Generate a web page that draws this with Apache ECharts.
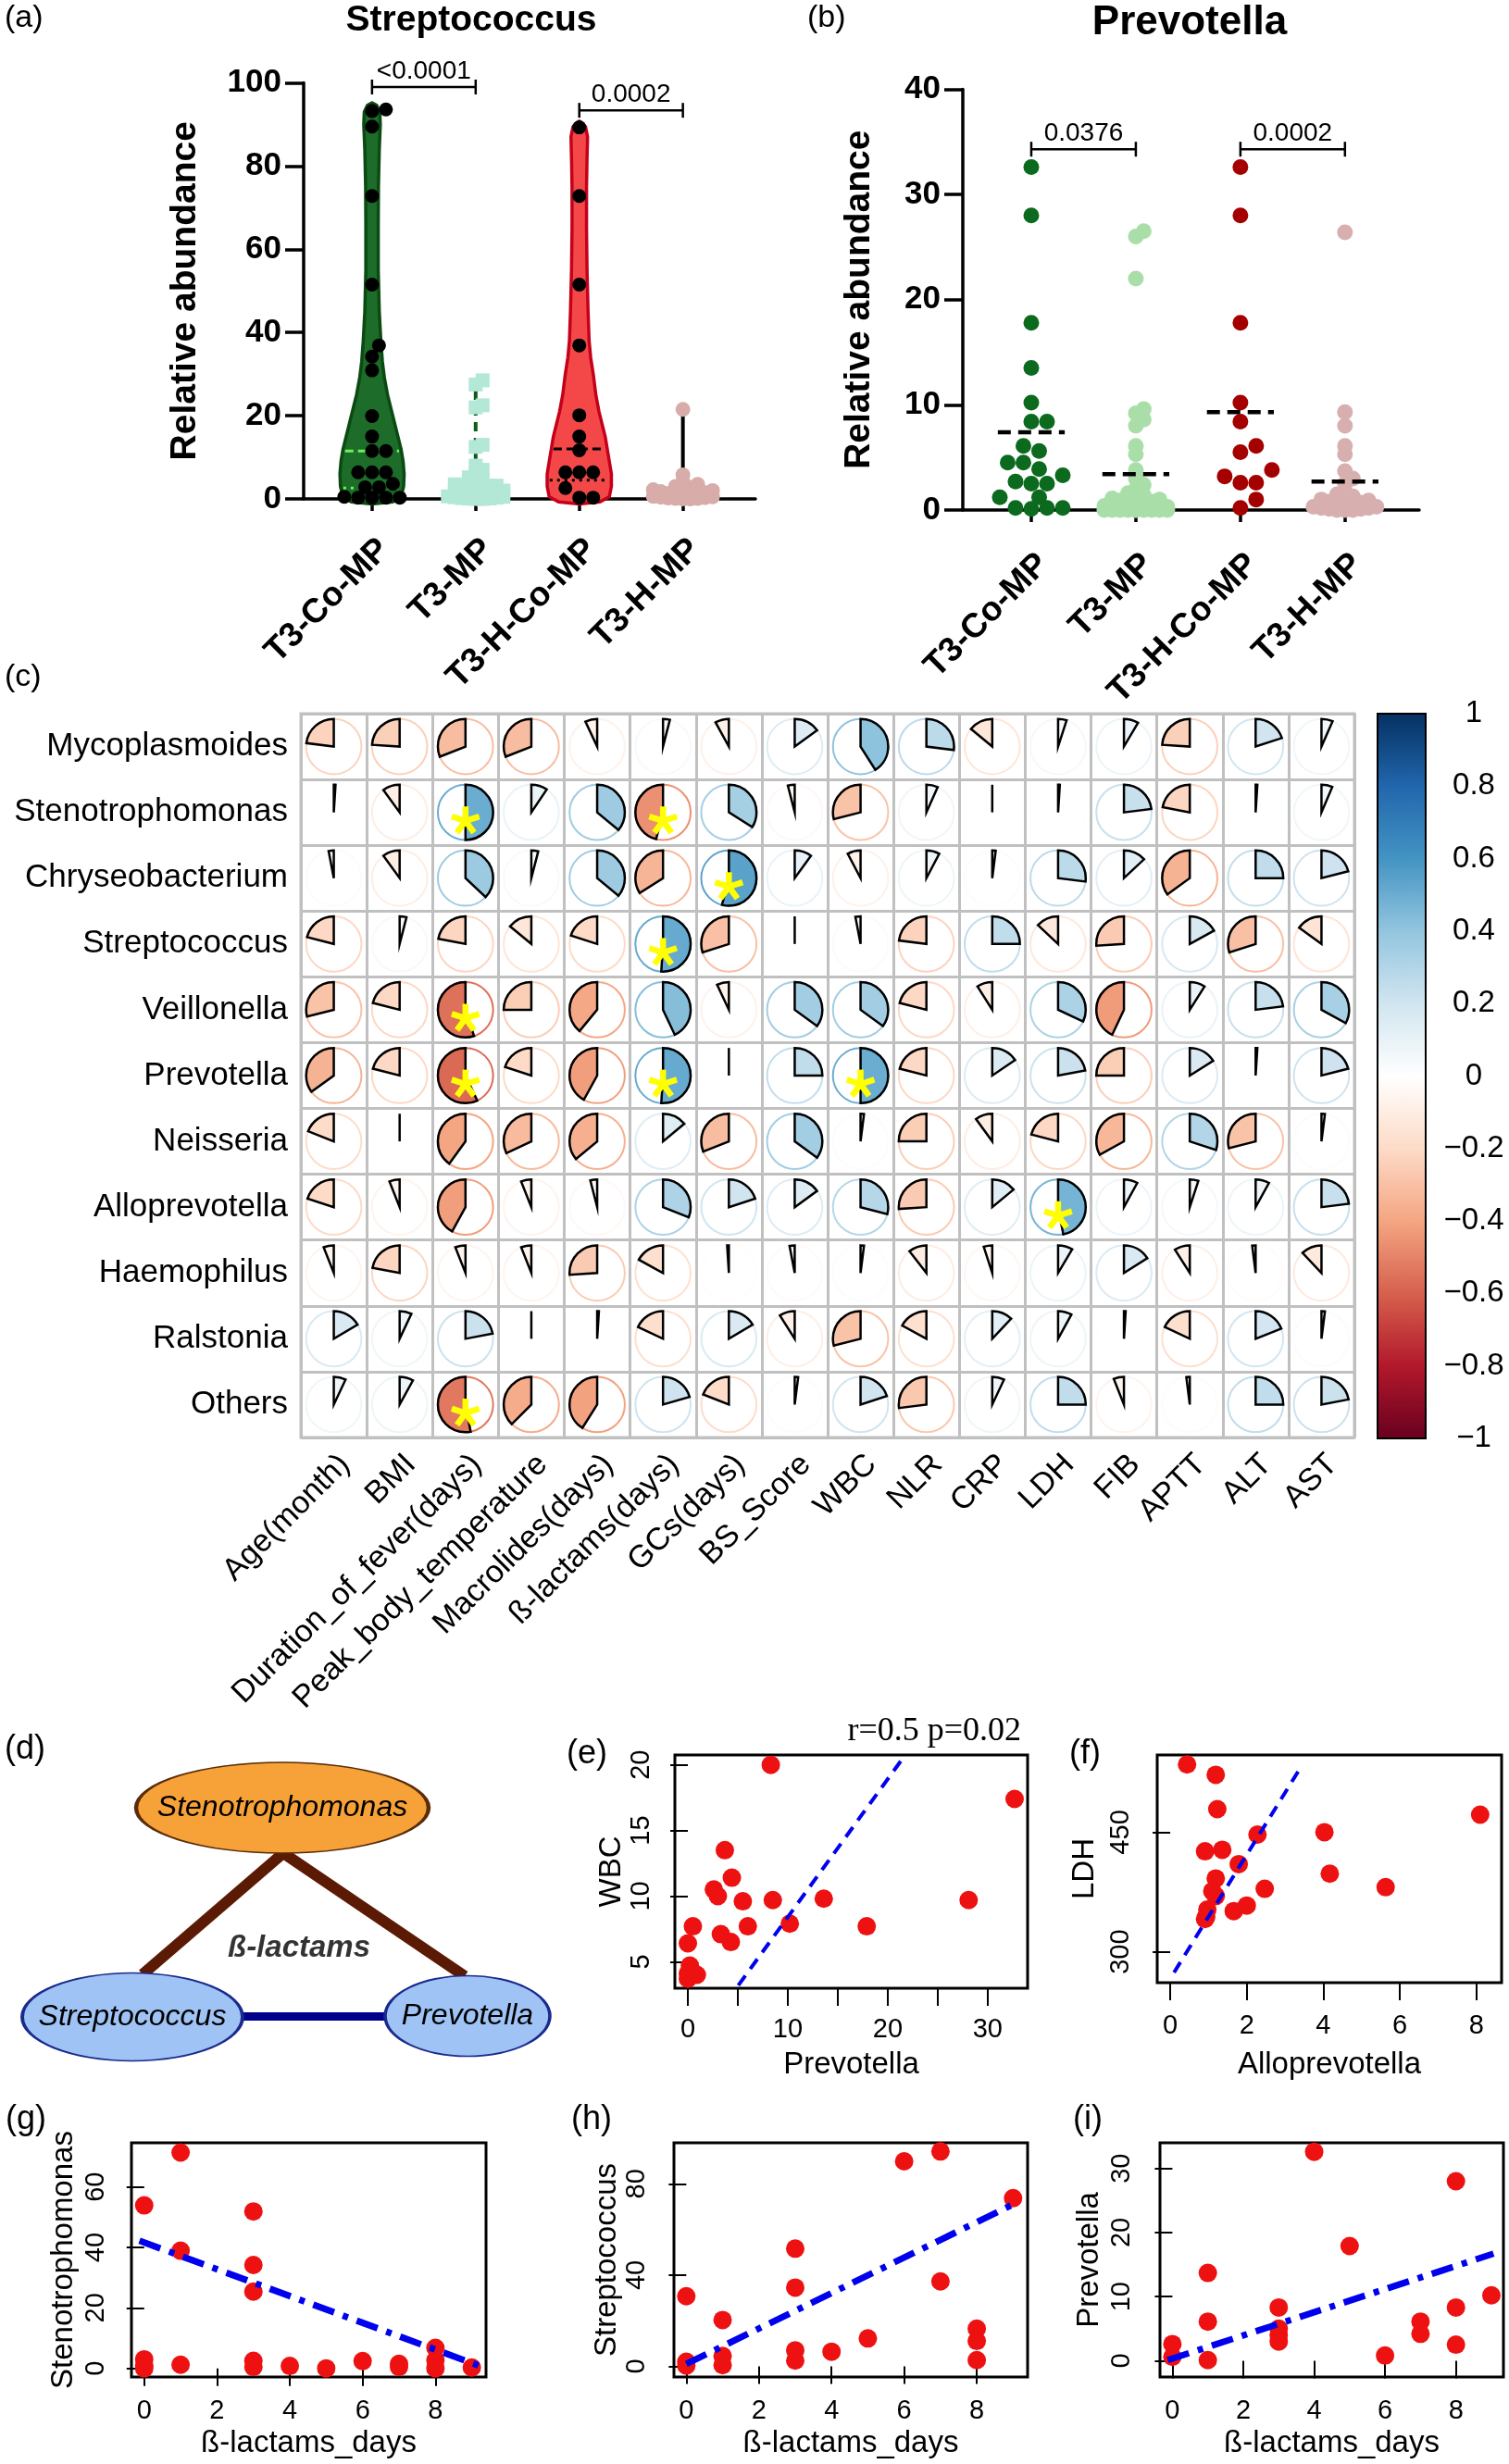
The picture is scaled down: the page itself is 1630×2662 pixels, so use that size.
<!DOCTYPE html>
<html><head><meta charset="utf-8">
<script src="https://cdn.jsdelivr.net/npm/echarts@6/dist/echarts.min.js"></script>
<style>html,body{margin:0;padding:0;background:#fff}#main{width:1630px;height:2662px}</style>
</head><body><div id="main"></div>
<script>
// ================= DATA =================
const groups = ['T3-Co-MP', 'T3-MP', 'T3-H-Co-MP', 'T3-H-MP'];

// (a) Streptococcus relative abundance
const strepCoMP  = [93.6, 93.2, 89.5, 72.8, 51.5, 36.9, 34.2, 30.9, 19.9, 15.0, 11.5, 11.5, 6.4, 6.4, 6.4, 3.6, 2.8, 2.8, 0.5, 0.3, 0.3, 0.3, 0.3];
const strepMP    = [28.5, 27.5, 22.5, 22.0, 13.0, 12.5, 8.0, 7.0, 6.0, 5.2, 4.5, 4.0, 3.5, 3.2, 3.0, 2.8, 2.6, 2.5, 2.2, 2.0, 1.8, 1.6, 1.5, 1.2, 1.0, 0.9, 0.8, 0.6, 0.5, 0.4, 0.3, 0.2, 0.1, 0.1, 0, 0];
const strepHCoMP = [89.3, 72.8, 51.5, 36.9, 20.1, 15.0, 11.7, 6.4, 6.4, 6.4, 2.6, 0.3, 0.3];
const strepHMP   = [21.5, 5.8, 4.2, 3.5, 3.0, 2.8, 2.5, 2.2, 2.0, 1.8, 1.5, 1.3, 1.1, 1.0, 0.9, 0.8, 0.6, 0.5, 0.4, 0.3, 0.2, 0.1, 0.1, 0, 0];
// violin outlines: [value, half width in category units]
const violinCoMP  = [[-1.2,0],[-0.7,0.2],[0.5,0.28],[3,0.305],[6,0.31],[9,0.3],[12,0.28],[15,0.25],[18,0.22],[21,0.19],[25,0.15],[29,0.12],[33,0.1],[38,0.085],[45,0.07],[55,0.06],[65,0.06],[75,0.062],[84,0.07],[90,0.08],[93,0.075],[94.6,0.045],[95.2,0]];
const violinHCoMP = [[-1.2,0],[-0.7,0.2],[0.5,0.29],[3,0.31],[6,0.31],[9,0.29],[12,0.27],[15,0.25],[18,0.22],[21,0.19],[25,0.16],[30,0.135],[34,0.11],[38,0.095],[45,0.085],[55,0.075],[65,0.07],[75,0.07],[82,0.075],[87,0.08],[89.5,0.06],[90.8,0]];
const strepMedians   = [[1, 11.5], [3, 12.0]];
const strepQuartiles = [[1, 2.6], [3, 4.5]];
const strepStems     = [[2, 8.7, 28.5], [4, 3.6, 21.4]];
const strepPvals     = [[1, 2, 99, '<0.0001'], [3, 4, 93.4, '0.0002']];

// (b) Prevotella relative abundance
const prevCoMP  = [32.6, 28.0, 17.8, 13.5, 10.2, 8.4, 8.4, 6.1, 5.6, 4.5, 4.5, 3.9, 3.3, 2.7, 2.5, 2.5, 1.2, 1.2, 0.2, 0.2, 0.2, 0.1];
const prevMP    = [26.5, 26.0, 22.0, 9.6, 9.2, 8.6, 8.0, 6.1, 5.3, 3.8, 3.0, 2.4, 2.0, 1.6, 1.4, 1.2, 1.1, 1.0, 0.9, 0.8, 0.7, 0.6, 0.5, 0.4, 0.3, 0.3, 0.2, 0.2, 0.1, 0.1, 0.1, 0.1, 0, 0, 0, 0, 0, 0, 0, 0, 0, 0];
const prevHCoMP = [32.6, 28.0, 17.8, 10.2, 8.4, 6.1, 5.5, 3.8, 3.2, 2.6, 2.6, 1.0, 0.2];
const prevHMP   = [26.4, 9.3, 8.0, 6.1, 5.3, 3.7, 3.0, 2.5, 1.8, 1.5, 1.3, 1.1, 1.0, 0.9, 0.8, 0.7, 0.6, 0.5, 0.4, 0.3, 0.3, 0.2, 0.2, 0.1, 0.1, 0, 0, 0];
const prevMeans = [7.4, 3.4, 9.3, 2.7];
const prevPvals = [[1, 2, 34.3, '0.0376'], [3, 4, 34.3, '0.0002']];

// (c) correlation matrix
const corrRows = ['Mycoplasmoides','Stenotrophomonas','Chryseobacterium','Streptococcus','Veillonella','Prevotella','Neisseria','Alloprevotella','Haemophilus','Ralstonia','Others'];
const corrCols = ['Age(month)','BMI','Duration_of_fever(days)','Peak_body_temperature','Macrolides(days)','ß-lactams(days)','GCs(days)','BS_Score','WBC','NLR','CRP','LDH','FIB','APTT','ALT','AST'];
const corrR = [
  [-0.23,-0.24,-0.31,-0.31,-0.07, 0.04,-0.08, 0.15, 0.41, 0.27,-0.14, 0.05, 0.085,-0.24, 0.20, 0.066],
  [ 0.01,-0.10, 0.50, 0.094,0.36,-0.46, 0.34,-0.04,-0.29, 0.067,0.0, 0.01, 0.23,-0.22, 0.01, 0.064],
  [-0.03,-0.10, 0.37, 0.04, 0.36,-0.34, 0.54, 0.10,-0.077,0.077,0.02, 0.27, 0.13,-0.35, 0.25, 0.21],
  [-0.21, 0.04,-0.22,-0.14,-0.20, 0.51,-0.30, 0.0,-0.03,-0.23, 0.25,-0.13,-0.26, 0.17,-0.30,-0.15],
  [-0.29,-0.21,-0.55,-0.25,-0.39, 0.43,-0.07, 0.35, 0.35,-0.21,-0.09, 0.32,-0.43, 0.09, 0.23, 0.33],
  [-0.35,-0.21,-0.57,-0.20,-0.42, 0.51, 0.0, 0.25, 0.50,-0.21, 0.155,0.22,-0.25, 0.16, 0.01, 0.21],
  [-0.19, 0.0,-0.40,-0.32,-0.36, 0.14,-0.31, 0.35, 0.02,-0.25,-0.10,-0.21,-0.33, 0.30,-0.29, 0.02],
  [-0.20,-0.06,-0.42,-0.06,-0.04, 0.31, 0.20, 0.15, 0.29,-0.26, 0.14, 0.47, 0.08, 0.05, 0.08, 0.23],
  [-0.06,-0.22,-0.06,-0.06,-0.26,-0.17,-0.01,-0.03, 0.02,-0.105,-0.05,0.085,0.16,-0.09,-0.02,-0.12],
  [ 0.165,0.07, 0.22, 0.0, 0.01,-0.18, 0.165,-0.09,-0.29,-0.17, 0.12, 0.08, 0.01,-0.18, 0.19, 0.02],
  [ 0.07, 0.08,-0.53,-0.375,-0.41,0.205,-0.19, 0.02, 0.20,-0.27, 0.07, 0.25,-0.06,-0.02, 0.25, 0.22]
];
const corrSig = [[1,2],[1,5],[2,6],[3,5],[4,2],[5,2],[5,5],[5,8],[7,11],[10,2]]; // [row, col]
const rdbuStops = [[-1,'#67001F'],[-0.8,'#B2182B'],[-0.6,'#D6604D'],[-0.4,'#F4A582'],[-0.2,'#FDDBC7'],[0,'#FFFFFF'],[0.2,'#D1E5F0'],[0.4,'#92C5DE'],[0.6,'#4393C3'],[0.8,'#2166AC'],[1,'#053061']];
const colorbarTicks = [-1,-0.8,-0.6,-0.4,-0.2,0,0.2,0.4,0.6,0.8,1];

// (d) network diagram
const netNodes = [['Stenotrophomonas', 305, 73], ['Streptococcus', 143, 299], ['Prevotella', 505, 298]];
const netEdges = [[[306,122],[154,253],'neg'], [[306,122],[502,255],'neg'], [[262,298],[416,298],'pos']];
const netLabel = ['ß-lactams', 323, 225];

// (e) WBC ~ Prevotella
const eData = [[3.7,13.5],[4.4,11.4],[2.6,10.5],[3.0,10.0],[5.5,9.6],[0.5,7.7],[6.0,7.7],[3.3,7.1],[4.3,6.5],[0,6.4],[0.2,4.7],[0,4.1],[0.9,4.0],[0,3.7],[8.3,20.0],[32.7,17.4],[8.5,9.7],[13.6,9.8],[28.1,9.7],[10.2,7.9],[17.9,7.7]];
const eFit = [[5.05,3.2],[21.7,20.7]];
// (f) LDH ~ Alloprevotella
const fData = [[0.44,535],[1.19,522],[1.23,479],[8.1,472],[2.28,447],[4.03,450],[0.91,426],[1.36,428],[1.79,410],[4.17,398],[1.19,392],[2.47,379],[5.63,381],[1.1,376],[1.19,370],[2.0,358],[1.66,351],[0.97,353],[0.94,344],[0.91,341]];
const fFit = [[0.10,274],[3.38,529]];
// (g) Stenotrophomonas ~ ß-lactams days
const gData = [[0,53.9],[0,3],[0,1],[0,0],[1,71.4],[1,38.9],[1,1.2],[3,51.9],[3,34.2],[3,25.4],[3,2.5],[3,0.5],[4,0.8],[5,0],[6,2.4],[7,1.5],[7,0.5],[8,6.8],[8,2.7],[8,0],[9,0.3]];
const gFit = [[-0.13,42.2],[9.2,0.9]];
// (h) Streptococcus ~ ß-lactams days
const hData = [[0,30.7],[0,2],[0,0.3],[1,20.3],[1,4.5],[1,0.5],[3,51.6],[3,34.5],[3,7],[3,2.5],[4,6.4],[5,12.2],[6,89.9],[7,94.2],[7,37.2],[8,16.5],[8,11.1],[8,2.7],[9,73.7]];
const hFit = [[0,1],[9,71]];
// (i) Prevotella ~ ß-lactams days
const iData = [[0,2.6],[0,0.6],[1,13.7],[1,6.1],[1,0.1],[3,8.3],[3,5.0],[3,4.0],[3,3.0],[4,32.6],[5,17.9],[6,0.8],[7,6.1],[7,4.2],[8,28.0],[8,8.3],[8,2.5],[9,10.2]];
const iFit = [[-0.13,0.1],[9.06,16.7]];

// ================= HELPERS =================
const FONT = '"Liberation Sans", Arial, sans-serif';
function hex2rgb(h){ return [parseInt(h.slice(1,3),16), parseInt(h.slice(3,5),16), parseInt(h.slice(5,7),16)]; }
function rdbu(v){
  v = Math.max(-1, Math.min(1, v));
  for (let k = 0; k < rdbuStops.length - 1; k++) {
    const [a, ca] = rdbuStops[k], [b, cb] = rdbuStops[k+1];
    if (v >= a && v <= b) {
      const t = (v - a) / (b - a), A = hex2rgb(ca), B = hex2rgb(cb);
      return 'rgb(' + A.map((x, i) => Math.round(x + (B[i] - x) * t)).join(',') + ')';
    }
  }
  return '#fff';
}

function swarmLayout(api, cat, values, d, pack, maxOff) {
  const pts = values.map((v, i) => ({ i, p: api.coord([cat, v]) }));
  pts.sort((a, b) => b.p[1] - a.p[1]);
  const placed = [], res = new Array(values.length), minD = d * pack, step = d * 0.5;
  for (const o of pts) {
    let best = null, bestScore = -1;
    for (let k = 0; k < 60; k++) {
      const off = k === 0 ? 0 : (k % 2 ? 1 : -1) * Math.ceil(k / 2) * step;
      if (Math.abs(off) > maxOff) break;
      const x = o.p[0] + off, y = o.p[1];
      let m = Infinity;
      for (const q of placed) { const dd = Math.hypot(q[0] - x, q[1] - y); if (dd < m) m = dd; }
      if (m >= minD) { best = [x, y]; break; }
      if (m > bestScore) { bestScore = m; best = [x, y]; }
    }
    placed.push(best); res[o.i] = best;
  }
  return res;
}
function swarmSeries(gi, cat, values, st) {
  let cache = null;
  return {
    type: 'custom', xAxisIndex: gi, yAxisIndex: gi, z: 5, clip: false,
    data: values.map(v => [cat, v]),
    renderItem(params, api) {
      if (params.dataIndex === 0 || !cache) cache = swarmLayout(api, cat, values, st.size, st.pack, st.maxOff);
      const p = cache[params.dataIndex], r = st.size / 2;
      if (st.shape === 'square') return { type: 'rect', shape: { x: p[0] - r, y: p[1] - r, width: st.size, height: st.size }, style: { fill: st.color } };
      return { type: 'circle', shape: { cx: p[0], cy: p[1], r }, style: { fill: st.color } };
    }
  };
}
function profileWidth(prof, y) {
  for (let k = 0; k < prof.length - 1; k++) {
    if (y >= prof[k][0] && y <= prof[k+1][0]) { const t = (y - prof[k][0]) / (prof[k+1][0] - prof[k][0]); return prof[k][1] + (prof[k+1][1] - prof[k][1]) * t; }
  }
  return 0;
}
function bracketSeries(gi, list) {
  return {
    type: 'custom', xAxisIndex: gi, yAxisIndex: gi, z: 6, clip: false, data: list,
    renderItem(params, api) {
      const a = api.coord([api.value(0), api.value(2)]), b = api.coord([api.value(1), api.value(2)]);
      const lab = list[params.dataIndex][3], c = 8;
      return { type: 'group', children: [
        { type: 'line', shape: { x1: a[0], y1: a[1], x2: b[0], y2: b[1] }, style: { stroke: '#000', lineWidth: 2.5 } },
        { type: 'line', shape: { x1: a[0], y1: a[1] - c, x2: a[0], y2: a[1] + c }, style: { stroke: '#000', lineWidth: 2.5 } },
        { type: 'line', shape: { x1: b[0], y1: b[1] - c, x2: b[0], y2: b[1] + c }, style: { stroke: '#000', lineWidth: 2.5 } },
        { type: 'text', style: { text: lab, x: (a[0] + b[0]) / 2, y: a[1] - 3, align: 'center', verticalAlign: 'bottom', fontSize: 28, fontFamily: FONT, fill: '#000' } }
      ] };
    }
  };
}
const violinProfiles = [violinCoMP, violinHCoMP];
const violinStyles = [{ fill: '#1d6c29', stroke: '#0b4a12', med: '#6cf25a' }, { fill: '#f44848', stroke: '#c4001a', med: '#000' }];

function catAxisX(gi, min, max, margin) {
  return { type: 'value', gridIndex: gi, min, max,
    axisLine: { show: true, onZero: false, lineStyle: { color: '#000', width: 3.5 } },
    axisTick: { show: true, customValues: [1, 2, 3, 4], length: 13, lineStyle: { color: '#000', width: 3.5 } },
    axisLabel: { customValues: [1, 2, 3, 4], formatter: v => groups[Math.round(v) - 1], rotate: 45, align: 'right', verticalAlign: 'top',
      fontWeight: 'bold', fontSize: 37, color: '#000', margin, fontFamily: FONT },
    splitLine: { show: false } };
}
function catAxisY(gi, max, interval, nameGap) {
  return { type: 'value', gridIndex: gi, min: 0, max, interval,
    axisLine: { show: true, lineStyle: { color: '#000', width: 3.5 } },
    axisTick: { show: true, length: 20, lineStyle: { color: '#000', width: 3.5 } },
    axisLabel: { fontWeight: 'bold', fontSize: 35, color: '#000', margin: 24, fontFamily: FONT },
    splitLine: { show: false },
    name: 'Relative abundance', nameLocation: 'middle', nameGap, nameTextStyle: { fontWeight: 'bold', fontSize: 39, color: '#000', fontFamily: FONT } };
}
function rAxis(gi, min, max, ticks, labels, name, nameGap, margin, isY, nameSize) {
  return { type: 'value', gridIndex: gi, min, max,
    axisLine: { show: false },
    axisTick: { show: true, customValues: ticks, length: 19, lineStyle: { color: '#000', width: 2 } },
    axisLabel: { customValues: labels, fontSize: 29, color: '#000', margin, fontFamily: FONT, rotate: isY ? 90 : 0 },
    splitLine: { show: false },
    name, nameLocation: 'middle', nameGap, nameTextStyle: { fontSize: nameSize, color: '#000', fontFamily: FONT } };
}
function fitSeries(gi, pts, dash, width) {
  return { type: 'line', xAxisIndex: gi, yAxisIndex: gi, data: pts, symbol: 'none', z: 4, clip: true,
    lineStyle: { color: '#0000ee', width, type: dash, cap: 'butt' } };
}
function dotSeries(gi, pts) {
  return { type: 'scatter', xAxisIndex: gi, yAxisIndex: gi, data: pts, symbolSize: 20, z: 3, itemStyle: { color: '#ee1111', opacity: 1 } };
}

// ================= OPTION =================
const g = (left, top, width, height, extra) => Object.assign({ left, top, width, height, containLabel: false, outerBoundsMode: 'none' }, extra || {});
const boxed = { show: true, borderColor: '#000', borderWidth: 3, backgroundColor: 'transparent' };

const corrData = [];
corrR.forEach((row, i) => row.forEach((r, j) => corrData.push([j, i, r, corrSig.some(s => s[0] === i && s[1] === j) ? 1 : 0])));

const ellipsePath = 'path://M50,0 C77.6,0 100,22.4 100,50 C100,77.6 77.6,100 50,100 C22.4,100 0,77.6 0,50 C0,22.4 22.4,0 50,0 Z';
const nodeStyles = [
  { color: '#f7a238', borderColor: '#5b2c0a', size: [316, 98] },
  { color: '#9fc3f4', borderColor: '#1a2a8c', size: [238, 95] },
  { color: '#9fc3f4', borderColor: '#1a2a8c', size: [178, 87] }
];
const edgeStyles = { neg: { color: '#5a1a04', width: 12 }, pos: { color: '#00008b', width: 9 } };

const series = [
  // ---- (a) violins
  { type: 'custom', xAxisIndex: 0, yAxisIndex: 0, z: 1, clip: false, data: [[1, 0], [3, 1]],
    renderItem(params, api) {
      const cat = api.value(0), idx = api.value(1), prof = violinProfiles[idx], st = violinStyles[idx];
      const pts = prof.map(([y, w]) => api.coord([cat + w, y]));
      for (let k = prof.length - 1; k >= 0; k--) pts.push(api.coord([cat - prof[k][1], prof[k][0]]));
      return { type: 'polygon', shape: { points: pts }, style: { fill: st.fill, stroke: st.stroke, lineWidth: 3.5, lineJoin: 'round' } };
    } },
  // median (dashed) and quartile (dotted) lines
  { type: 'custom', xAxisIndex: 0, yAxisIndex: 0, z: 2, clip: false,
    data: strepMedians.map(m => [m[0], m[1], 0]).concat(strepQuartiles.map(m => [m[0], m[1], 1])),
    renderItem(params, api) {
      const cat = api.value(0), y = api.value(1), kind = api.value(2);
      const idx = cat === 1 ? 0 : 1, w = profileWidth(violinProfiles[idx], y) * 0.92;
      const a = api.coord([cat - w, y]), b = api.coord([cat + w, y]);
      return { type: 'line', shape: { x1: a[0], y1: a[1], x2: b[0], y2: b[1] },
        style: { stroke: violinStyles[idx].med, lineWidth: 3, lineDash: kind === 0 ? [9, 5] : [3, 5] } };
    } },
  // collapsed violins (stems)
  { type: 'custom', xAxisIndex: 0, yAxisIndex: 0, z: 2, clip: false, data: strepStems,
    renderItem(params, api) {
      const a = api.coord([api.value(0), api.value(1)]), b = api.coord([api.value(0), api.value(2)]);
      const dashed = api.value(0) === 2;
      return { type: 'line', shape: { x1: a[0], y1: a[1], x2: b[0], y2: b[1] },
        style: { stroke: dashed ? '#0d5c17' : '#000', lineWidth: 4, lineDash: dashed ? [10, 7] : null } };
    } },
  swarmSeries(0, 1, strepCoMP, { size: 15, pack: 0.95, maxOff: 34, color: '#000' }),
  swarmSeries(0, 2, strepMP, { size: 15, pack: 0.4, maxOff: 34, color: '#b3e7d6', shape: 'square' }),
  swarmSeries(0, 3, strepHCoMP, { size: 15, pack: 0.95, maxOff: 34, color: '#000' }),
  swarmSeries(0, 4, strepHMP, { size: 16, pack: 0.4, maxOff: 32, color: '#d7aca9' }),
  bracketSeries(0, strepPvals),

  // ---- (b)
  swarmSeries(1, 1, prevCoMP, { size: 17, pack: 0.95, maxOff: 38, color: '#0b6a1d' }),
  swarmSeries(1, 2, prevMP, { size: 17, pack: 0.45, maxOff: 38, color: '#a9dea9' }),
  swarmSeries(1, 3, prevHCoMP, { size: 17, pack: 0.95, maxOff: 38, color: '#a50000' }),
  swarmSeries(1, 4, prevHMP, { size: 17, pack: 0.45, maxOff: 38, color: '#d8afaf' }),
  { type: 'custom', xAxisIndex: 1, yAxisIndex: 1, z: 7, clip: false, data: prevMeans.map((m, i) => [i + 1, m]),
    renderItem(params, api) {
      const a = api.coord([api.value(0) - 0.32, api.value(1)]), b = api.coord([api.value(0) + 0.32, api.value(1)]);
      return { type: 'line', shape: { x1: a[0], y1: a[1], x2: b[0], y2: b[1] }, style: { stroke: '#000', lineWidth: 4.5, lineDash: [14, 8] } };
    } },
  bracketSeries(1, prevPvals),

  // ---- (c) correlation pies
  { type: 'custom', xAxisIndex: 2, yAxisIndex: 2, z: 3, data: corrData,
    renderItem(params, api) {
      const c = api.coord([api.value(0), api.value(1)]), s = api.size([1, 1]);
      const cs = Math.min(s[0], s[1]), R = cs * 0.42, r = api.value(2), col = rdbu(r), a0 = -Math.PI / 2;
      const ch = [{ type: 'circle', shape: { cx: c[0], cy: c[1], r: R }, style: { fill: 'none', stroke: col, lineWidth: 2 } }];
      if (Math.abs(r) < 0.004) ch.push({ type: 'line', shape: { x1: c[0], y1: c[1], x2: c[0], y2: c[1] - R }, style: { stroke: '#000', lineWidth: 2.5 } });
      else ch.push({ type: 'sector', shape: { cx: c[0], cy: c[1], r0: 0, r: R, startAngle: a0, endAngle: a0 + 2 * Math.PI * r, clockwise: r > 0 },
        style: { fill: col, stroke: '#000', lineWidth: 2.5, lineJoin: 'miter' } });
      if (api.value(3)) {
        const sx = c[0], sy = c[1] + cs * 0.13, L = cs * 0.22;
        [-90, -18, 54, 126, 198].forEach(deg => {
          const t = deg * Math.PI / 180;
          ch.push({ type: 'line', shape: { x1: sx, y1: sy, x2: sx + L * Math.cos(t), y2: sy + L * Math.sin(t) }, style: { stroke: '#ffff00', lineWidth: 6.5, lineCap: 'butt' } });
        });
      }
      return { type: 'group', children: ch };
    } },
  // colorbar
  { type: 'custom', xAxisIndex: 3, yAxisIndex: 3, z: 2, data: [[0, 0]],
    renderItem(params, api) {
      const tl = api.coord([0, 1]), br = api.coord([1, -1]);
      const stops = rdbuStops.slice().reverse().map(([v, c]) => ({ offset: (1 - v) / 2, color: c }));
      return { type: 'rect', shape: { x: tl[0], y: tl[1], width: br[0] - tl[0], height: br[1] - tl[1] },
        style: { fill: { type: 'linear', x: 0, y: 0, x2: 0, y2: 1, colorStops: stops }, stroke: '#000', lineWidth: 2 } };
    } },

  // ---- (d) network
  { type: 'lines', coordinateSystem: 'cartesian2d', xAxisIndex: 4, yAxisIndex: 4, z: 1, polyline: false, silent: true,
    data: netEdges.map(e => ({ coords: [e[0], e[1]], lineStyle: { color: edgeStyles[e[2]].color, width: edgeStyles[e[2]].width, opacity: 1, curveness: 0, cap: 'butt' } })) },
  { type: 'scatter', xAxisIndex: 4, yAxisIndex: 4, z: 2, symbol: ellipsePath,
    data: netNodes.map((n, i) => ({ name: n[0], value: [n[1], n[2]], symbolSize: nodeStyles[i].size,
      itemStyle: { color: nodeStyles[i].color, borderColor: nodeStyles[i].borderColor, borderWidth: 2.5, opacity: 1 } })),
    label: { show: true, position: 'inside', formatter: p => p.name, fontStyle: 'italic', fontSize: 32, color: '#000', fontFamily: FONT } },
  { type: 'scatter', xAxisIndex: 4, yAxisIndex: 4, z: 3, symbolSize: 0,
    data: [{ name: netLabel[0], value: [netLabel[1], netLabel[2]] }],
    label: { show: true, position: 'inside', formatter: p => p.name, fontStyle: 'italic', fontWeight: 'bold', fontSize: 33, color: '#000', fontFamily: FONT } },

  // ---- (e)-(i)
  dotSeries(5, eData), fitSeries(5, eFit, [13, 9], 4),
  dotSeries(6, fData), fitSeries(6, fFit, [13, 9], 4),
  dotSeries(7, gData), fitSeries(7, gFit, [24, 10, 6, 10], 7),
  dotSeries(8, hData), fitSeries(8, hFit, [24, 10, 6, 10], 7),
  dotSeries(9, iData), fitSeries(9, iFit, [24, 10, 6, 10], 7)
];

const option = {
  backgroundColor: '#fff',
  animation: false,
  grid: [
    g(328, 89.5, 488, 449.5),
    g(1040, 96.4, 493, 454.6),
    g(325, 771, 1138, 782, { show: true, borderColor: '#c0c0c0', borderWidth: 3, backgroundColor: '#fff' }),
    g(1488, 771, 52, 783),
    g(0, 1880, 620, 360),
    g(729, 1896, 381, 252, boxed),
    g(1250, 1896, 372, 246, boxed),
    g(142, 2315, 383, 253, boxed),
    g(728, 2315, 382, 253, boxed),
    g(1253, 2315, 371, 253, boxed)
  ],
  xAxis: [
    catAxisX(0, 0.34, 4.70, 36),
    catAxisX(1, 0.345, 4.71, 40),
    { type: 'category', gridIndex: 2, data: corrCols, boundaryGap: true,
      axisLine: { show: false }, axisTick: { show: false },
      axisLabel: { interval: 0, rotate: 45, align: 'right', verticalAlign: 'top', fontSize: 34, color: '#000', margin: 12, fontFamily: FONT },
      splitLine: { show: true, interval: 0, lineStyle: { color: '#c0c0c0', width: 3 } } },
    { type: 'value', gridIndex: 3, min: 0, max: 1, show: false },
    { type: 'value', gridIndex: 4, min: 0, max: 620, show: false },
    rAxis(5, -1.3, 34, [0, 5, 10, 15, 20, 25, 30], [0, 10, 20, 30], 'Prevotella', 66, 30, false, 33),
    rAxis(6, -0.34, 8.66, [0, 2, 4, 6, 8], [0, 2, 4, 6, 8], 'Alloprevotella', 72, 32, false, 33),
    rAxis(7, -0.35, 9.39, [0, 2, 4, 6, 8], [0, 2, 4, 6, 8], 'ß-lactams_days', 55, 22, false, 33),
    rAxis(8, -0.34, 9.4, [0, 2, 4, 6, 8], [0, 2, 4, 6, 8], 'ß-lactams_days', 55, 22, false, 33),
    rAxis(9, -0.35, 9.34, [0, 2, 4, 6, 8], [0, 2, 4, 6, 8], 'ß-lactams_days', 55, 22, false, 33)
  ],
  yAxis: [
    catAxisY(0, 100, 20, 108),
    catAxisY(1, 40, 10, 92),
    { type: 'category', gridIndex: 2, data: corrRows, inverse: true, boundaryGap: true,
      axisLine: { show: false }, axisTick: { show: false },
      axisLabel: { interval: 0, fontSize: 35, color: '#000', margin: 14, fontFamily: FONT },
      splitLine: { show: true, interval: 0, lineStyle: { color: '#c0c0c0', width: 3 } } },
    { type: 'value', gridIndex: 3, min: -1, max: 1, position: 'right',
      axisLine: { show: false },
      axisTick: { show: true, customValues: colorbarTicks, length: 10, lineStyle: { color: '#000', width: 2 } },
      axisLabel: { customValues: colorbarTicks, fontSize: 33, color: '#000', margin: 52, align: 'center', fontFamily: FONT,
        formatter: v => String(Math.round(v * 10) / 10).replace('-', '\u2212') },
      splitLine: { show: false } },
    { type: 'value', gridIndex: 4, min: 0, max: 360, inverse: true, show: false },
    rAxis(5, 2.98, 20.75, [5, 10, 15, 20], [5, 10, 15, 20], 'WBC', 50, 22, true, 33),
    rAxis(6, 261.2, 546.9, [300, 450], [300, 450], 'LDH', 62, 25, true, 33),
    rAxis(7, -2.85, 74.6, [0, 20, 40, 60], [0, 20, 40, 60], 'Stenotrophomonas', 57, 24, true, 33),
    rAxis(8, -4.7, 98, [0, 40, 80], [0, 40, 80], 'Streptococcus', 55, 26, true, 33),
    rAxis(9, -2.54, 34, [0, 10, 20, 30], [0, 10, 20, 30], 'Prevotella', 60, 27, true, 33)
  ],
  series,
  graphic: [
    ['(a)', 5, 20, 'left', '34px ' + FONT],
    ['Streptococcus', 509, 22, 'center', 'bold 39px ' + FONT],
    ['(b)', 872, 20, 'left', '34px ' + FONT],
    ['Prevotella', 1285, 25, 'center', 'bold 44px ' + FONT],
    ['(c)', 5, 732, 'left', '34px ' + FONT],
    ['(d)', 5, 1890, 'left', '36px ' + FONT],
    ['(e)', 634, 1895, 'center', '36px ' + FONT],
    ['r=0.5 p=0.02', 1103, 1871, 'right', '36px "Liberation Serif", "Times New Roman", serif'],
    ['(f)', 1172, 1895, 'center', '36px ' + FONT],
    ['(g)', 28, 2290, 'center', '36px ' + FONT],
    ['(h)', 639, 2290, 'center', '36px ' + FONT],
    ['(i)', 1175, 2290, 'center', '36px ' + FONT]
  ].map(([text, x, y, align, font]) => ({ type: 'text', x, y, z: 100, style: { text, align, verticalAlign: 'middle', font, fill: '#000' } }))
};

const chart = echarts.init(document.getElementById('main'), null, { renderer: 'canvas', width: 1630, height: 2662 });
chart.setOption(option);
</script>
</body></html>
